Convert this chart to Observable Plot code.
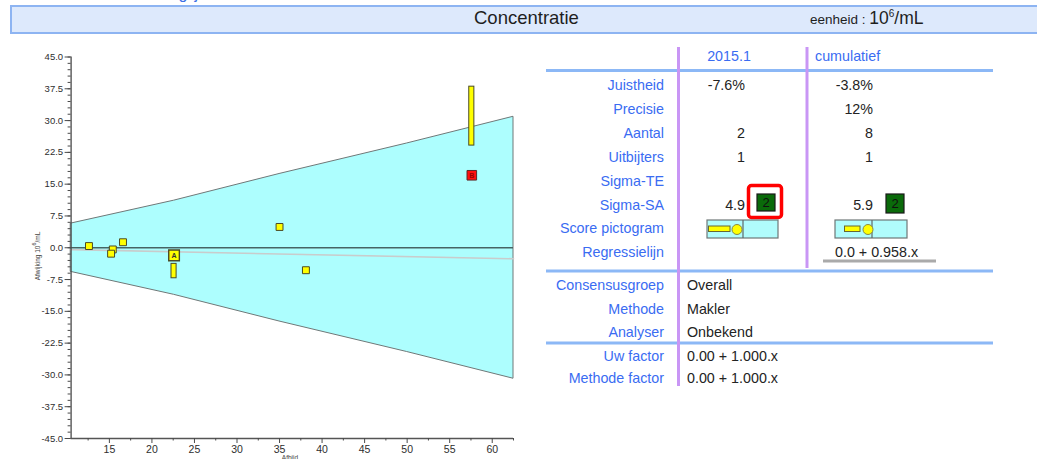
<!DOCTYPE html>
<html><head><meta charset="utf-8">
<script src="https://cdn.jsdelivr.net/npm/d3@7"></script>
<script src="https://cdn.jsdelivr.net/npm/@observablehq/plot@0.6"></script>
<style>
html,body{margin:0;padding:0;background:#fff;}
#root{position:relative;width:1037px;height:459px;overflow:hidden;font-family:"Liberation Sans",Arial,sans-serif;}
#toptext{position:absolute;left:14px;top:-15px;font-size:16px;color:#3b6fe6;white-space:nowrap;}
#header{position:absolute;left:10px;top:5px;width:1100px;height:25px;background:#dde9fc;border:2px solid #8db4f2;}
#title{position:absolute;left:474px;top:7px;font-size:18.5px;color:#1e1e1e;white-space:nowrap;}
#unit{position:absolute;left:810px;top:8px;color:#1e1e1e;white-space:nowrap;}
#unit .s{font-size:13.5px;}
#unit .b{font-size:17.5px;}
#plot{position:absolute;left:0;top:40px;}
#ytitle{position:absolute;left:36px;top:256px;transform:translate(-50%,-50%) rotate(-90deg);font-size:6.5px;color:#444;white-space:nowrap;}
#xtitle{position:absolute;left:290px;top:454px;transform:translateX(-50%);font-size:6.5px;color:#444;white-space:nowrap;}
#table{position:absolute;left:0;top:0;}
</style></head>
<body><div id="root">
<div id="toptext">Concentratie en beweeglijkheid</div>
<div id="header"></div>
<div id="title">Concentratie</div>
<div id="unit"><span class="s">eenheid : </span><span class="b">10<sup style="font-size:10px">6</sup>/mL</span></div>
<div id="plot"></div>
<div id="ytitle">Afwijking 10<sup>6</sup>/mL</div>
<div id="xtitle">Afbijd</div>
<div id="table"></div>
</div>
<script>
// ---------- chart data ----------
const xMajorTicks = [15, 20, 25, 30, 35, 40, 45, 50, 55, 60];
const xMinorTicks = [12.5, 17.5, 22.5, 27.5, 32.5, 37.5, 42.5, 47.5, 52.5, 57.5, 62.5];
const yMajorTicks = [-45, -37.5, -30, -22.5, -15, -7.5, 0, 7.5, 15, 22.5, 30, 37.5, 45];
const yMinorTicks = d3.range(-45, 45.001, 1.5);

const bandX     = [10.5, 22.6, 35.0, 50.0, 62.5];
const bandUpper = [5.7, 11.1, 17.4, 24.6, 30.9];
const bandLower = [-5.7, -11.1, -17.4, -24.6, -30.9];

const regX = [10.5, 62.5];
const regY = [-0.45, -2.6];

const squareX = [12.6, 15.4, 15.2, 16.6, 35.0, 38.1];
const squareY = [0.4, -0.4, -1.4, 1.3, 4.9, -5.3];

const labelX = [22.6];
const labelY = [-1.8];
const labelText = ["A"];

const barX    = [22.6, 57.6];
const barLow  = [-7.2, 24.1];
const barHigh = [-3.8, 38.0];

const outX = [57.6];
const outY = [17.1];
const outText = ["B"];

// ---------- table data ----------
const columnHeaders = ["2015.1", "cumulatief"];
const rowLabels = ["Juistheid", "Precisie", "Aantal", "Uitbijters", "Sigma-TE", "Sigma-SA", "Score pictogram", "Regressielijn"];
const periodValues = ["-7.6%", "", "2", "1", "", "4.9", "", ""];
const cumulValues  = ["-3.8%", "12%", "8", "1", "", "5.9", "", ""];
const sigmaScores = ["2", "2"];
const regressionText = "0.0 + 0.958.x";
const infoLabels = ["Consensusgroep", "Methode", "Analyser"];
const infoValues = ["Overall", "Makler", "Onbekend"];
const factorLabels = ["Uw factor", "Methode factor"];
const factorValues = ["0.00 + 1.000.x", "0.00 + 1.000.x"];

// ---------- plot ----------
const band = bandX.map((x, i) => ({x, lo: bandLower[i], hi: bandUpper[i]}));
const reg = regX.map((x, i) => ({x, y: regY[i]}));
const squares = squareX.map((x, i) => ({x, y: squareY[i]}));
const labeled = labelX.map((x, i) => ({x, y: labelY[i], t: labelText[i]}));
const bars = barX.map((x, i) => ({x, lo: barLow[i], hi: barHigh[i]}));
const outs = outX.map((x, i) => ({x, y: outY[i], t: outText[i]}));

const YELLOW = "#ffff00", EDGE = "#4a4a25", CYAN = "#adfefe";
const narrow = "'Liberation Sans Narrow','Liberation Sans',Arial,sans-serif";

const chart = Plot.plot({
  width: 530, height: 419,
  marginLeft: 70.6, marginRight: 17, marginTop: 16.5, marginBottom: 21,
  x: {domain: [10.5, 62.5]},
  y: {domain: [-45, 45]},
  style: {fontFamily: narrow, fontSize: "9.5px", color: "#2e2e2e", background: "transparent", overflow: "visible"},
  marks: [
    Plot.areaY(band, {x: "x", y1: "lo", y2: "hi", fill: CYAN, stroke: "#6f7878", strokeWidth: 1}),
    Plot.ruleY([0], {stroke: "#476464", strokeWidth: 1.6}),
    Plot.line(reg, {x: "x", y: "y", stroke: "#c9cccc", strokeWidth: 1.6}),
    Plot.rect(bars, {x1: d => d.x - 0.3, x2: d => d.x + 0.3, y1: "lo", y2: "hi", fill: YELLOW, stroke: EDGE, strokeWidth: 1}),
    Plot.dot(squares, {x: "x", y: "y", symbol: "square", r: 3.9, fill: YELLOW, stroke: EDGE, strokeWidth: 1}),
    Plot.dot(labeled, {x: "x", y: "y", symbol: "square", r: 6, fill: YELLOW, stroke: EDGE, strokeWidth: 1.4}),
    Plot.text(labeled, {x: "x", y: "y", text: "t", fontSize: 7, fontWeight: "bold", fill: "#333", fontFamily: "Liberation Sans"}),
    Plot.dot(outs, {x: "x", y: "y", symbol: "square", r: 5.4, fill: "#ff1010", stroke: "#5a2a2a", strokeWidth: 1}),
    Plot.text(outs, {x: "x", y: "y", text: "t", fontSize: 7, fontWeight: "bold", fill: "#990000", fontFamily: "Liberation Sans"}),
    Plot.ruleX([10.5], {stroke: "#4a4a4a", strokeWidth: 1.3}),
    Plot.ruleY([-45], {stroke: "#555", strokeWidth: 1.3}),
    Plot.axisY({ticks: yMinorTicks, tickSize: 3, text: null, label: null, stroke: "#4a4a4a"}),
    Plot.axisY({ticks: yMajorTicks, tickSize: 6, tickPadding: 2, tickFormat: d => d.toFixed(1), label: null, stroke: "#4a4a4a"}),
    Plot.axisX({ticks: xMinorTicks, tickSize: 2.5, text: null, label: null, stroke: "#4a4a4a"}),
    Plot.axisX({ticks: xMajorTicks, tickSize: 5, tickPadding: 2, label: null, fontSize: 10.5, stroke: "#4a4a4a"})
  ]
});
document.getElementById("plot").appendChild(chart);

// ---------- table ----------
const BLUE = "#3a6cf2", DARK = "#232323", FS = 14.3;
const svg = d3.select("#table").append("svg").attr("width", 1037).attr("height", 459)
  .style("font-family", "'Liberation Sans',Arial,sans-serif");

// grid lines
[70.5, 271, 343].forEach(y => svg.append("line").attr("x1", 546).attr("x2", 993).attr("y1", y).attr("y2", y)
  .attr("stroke", "#8cb8f6").attr("stroke-width", 3));
svg.append("line").attr("x1", 678.5).attr("x2", 678.5).attr("y1", 47).attr("y2", 386).attr("stroke", "#c996f5").attr("stroke-width", 3);
svg.append("line").attr("x1", 807).attr("x2", 807).attr("y1", 47).attr("y2", 268).attr("stroke", "#c996f5").attr("stroke-width", 3);

function txt(x, y, s, anchor, fill, size) {
  svg.append("text").attr("x", x).attr("y", y).attr("dy", "0.36em").attr("text-anchor", anchor)
    .attr("fill", fill).attr("font-size", size || FS).text(s);
}

txt(729, 56, columnHeaders[0], "middle", BLUE);
txt(815, 56, columnHeaders[1], "start", BLUE);

const rowY = [85, 109, 133, 157, 181, 205, 228, 252];
rowLabels.forEach((l, i) => {
  txt(664, rowY[i], l, "end", BLUE);
  if (periodValues[i]) txt(745, rowY[i], periodValues[i], "end", DARK);
  if (cumulValues[i]) txt(873, rowY[i], cumulValues[i], "end", DARK);
});

// sigma score boxes
function scoreBox(x, y, w, h, s) {
  svg.append("rect").attr("x", x).attr("y", y).attr("width", w).attr("height", h)
    .attr("fill", "#0a6a0a").attr("stroke", "#1a1a1a").attr("stroke-width", 1.2);
  txt(x + w / 2, y + h / 2, s, "middle", "#101010", 13);
}
scoreBox(757, 194, 18, 17, sigmaScores[0]);
scoreBox(886, 194, 18, 19, sigmaScores[1]);
svg.append("rect").attr("x", 748.5).attr("y", 185.5).attr("width", 33).attr("height", 32).attr("rx", 3)
  .attr("fill", "none").attr("stroke", "#ff0000").attr("stroke-width", 3.5);

// score pictograms
function picto(x0, x1, div, b0, b1, cx) {
  svg.append("rect").attr("x", x0).attr("y", 220).attr("width", x1 - x0).attr("height", 18)
    .attr("fill", "#b0fcfc").attr("stroke", "#6f7777").attr("stroke-width", 1.2);
  svg.append("line").attr("x1", div).attr("x2", div).attr("y1", 220).attr("y2", 238).attr("stroke", "#5f6767").attr("stroke-width", 1.2);
  svg.append("rect").attr("x", b0).attr("y", 226).attr("width", b1 - b0).attr("height", 5.5)
    .attr("fill", YELLOW).attr("stroke", "#666633").attr("stroke-width", 1);
  svg.append("circle").attr("cx", cx).attr("cy", 229.5).attr("r", 5).attr("fill", YELLOW).attr("stroke", "#888844").attr("stroke-width", 1);
}
picto(707, 778, 743, 708.5, 730, 737);
picto(835, 907, 872, 844.5, 860, 868);

// regression
txt(835, 252, regressionText, "start", DARK);
svg.append("rect").attr("x", 823).attr("y", 259.5).attr("width", 113).attr("height", 3).attr("fill", "#aaaaaa");

const infoY = [285, 309, 332];
infoLabels.forEach((l, i) => { txt(664, infoY[i], l, "end", BLUE); txt(687, infoY[i], infoValues[i], "start", DARK); });
const factorY = [356, 378];
factorLabels.forEach((l, i) => { txt(664, factorY[i], l, "end", BLUE); txt(687, factorY[i], factorValues[i], "start", DARK); });
</script>
</body></html>
